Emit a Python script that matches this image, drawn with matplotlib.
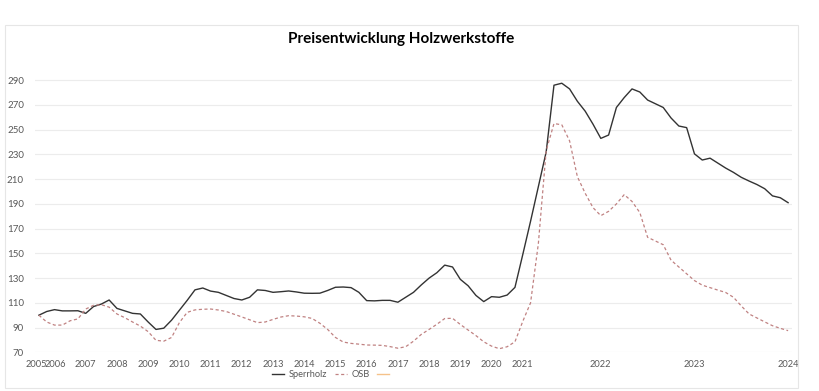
import matplotlib
matplotlib.use("Agg")
import matplotlib.pyplot as plt
import matplotlib.transforms as mtransforms
from matplotlib.lines import Line2D
from matplotlib.patches import Rectangle

plt.rcParams['font.family'] = ['Lato', 'DejaVu Sans']

# Category labels (quarterly until 2020, monthly from 2021); only some categories carry a label
tick_positions = [0, 2, 6, 10, 14, 18, 22, 26, 30, 34, 38, 42, 46, 50, 54, 58, 62, 72, 84, 96]
tick_labels = ["2005", "2006", "2007", "2008", "2009", "2010", "2011", "2012", "2013", "2014",
               "2015", "2016", "2017", "2018", "2019", "2020", "2021", "2022", "2023", "2024"]

sperrholz = [100, 103, 104.5, 103.5, 103.5, 103.6, 101.5, 107, 109, 112.3,
             105.5, 103.5, 101.5, 101, 94.5, 88.5, 89.5, 96, 104, 112,
             120.5, 122, 119.5, 118.5, 116, 113.5, 112.3, 114.5, 120.5, 120,
             118.5, 119, 119.6, 118.8, 117.8, 117.7, 117.8, 120, 122.6, 122.8,
             122.3, 118.5, 111.8, 111.6, 112, 112, 110.5, 114.5, 118.5, 124.5,
             130, 134.4, 140.5, 139, 129, 123.8, 116, 111, 115, 114.5,
             116.3, 122.5, 149, 176, 204, 232, 286, 287.6, 283, 273,
             265, 254.5, 243, 245.7, 268, 276, 283, 280.5, 274, 271,
             268, 259.5, 253, 251.7, 230.5, 225.5, 227, 223, 219, 215.5,
             211.5, 208.5, 205.7, 202.3, 196.5, 195, 191]

osb = [100, 94.5, 92, 92, 95.5, 97, 105, 108, 108.5, 106.5,
       101, 98, 94.5, 91.2, 86.7, 79.7, 79, 82, 94, 102.3,
       104.3, 104.8, 105, 104.2, 103, 100.8, 98.6, 96.3, 94, 94.5,
       96.6, 98.5, 99.6, 99.3, 98.7, 97.4, 93.5, 88.5, 82, 78.3,
       77.2, 76.6, 75.9, 75.8, 75.6, 74.6, 73.3, 74.5, 79, 84.5,
       88.5, 92.7, 97.3, 97.5, 92.5, 88, 83.5, 78.5, 75, 72.9,
       74.5, 78.5, 95, 110, 158, 233, 255, 254, 241, 212,
       198.6, 187, 180.5, 184, 190, 197.5, 192, 183, 163, 160,
       157, 144.5, 139, 133.5, 128, 124.3, 122.3, 120.3, 118.4, 114.5,
       107.5, 101, 97.8, 94.6, 91.5, 89.4, 87.5]

y_ticks = [70, 90, 110, 130, 150, 170, 190, 210, 230, 250, 270, 290]
title = "Preisentwicklung Holzwerkstoffe"
series_names = ["Sperrholz", "OSB", ""]

W, H = 820, 391
fig = plt.figure(figsize=(W / 100, H / 100), dpi=100)
fig.patch.set_facecolor('white')

# chart border
fig.patches.append(Rectangle((5 / W, 1 - 388 / H), 793 / W, 363 / H, transform=fig.transFigure,
                             fill=False, edgecolor='#e6e6e6', linewidth=0.8))

sp_color = '#333333'
osb_color = '#c08282'

ax = fig.add_axes([35 / W, (H - 352.3) / H, (792 - 35) / W, (352.3 - 67.9) / H])
x = list(range(len(sperrholz)))
ax.plot(x, sperrholz, color=sp_color, linewidth=1.0, solid_joinstyle='round')
ax.plot(x, osb, color=osb_color, linewidth=0.9, dashes=(2.5, 2))

ax.set_xlim(-0.5, 96.5)
ax.set_ylim(70, 300)
ax.set_yticks(y_ticks)
ax.set_xticks(tick_positions)
ax.set_xticklabels(tick_labels)
ax.grid(axis='y', color='#ececec', linewidth=0.8)
ax.set_axisbelow(True)
for s in ax.spines.values():
    s.set_visible(False)
ax.tick_params(axis='both', length=0, labelsize=7, labelcolor='#595959')
ax.tick_params(axis='x', labelsize=6.7, pad=5.5)
ax.tick_params(axis='y', pad=8)

# nudge the first two crowded labels apart slightly
first = ax.get_xticklabels()[0]
first.set_transform(first.get_transform() + mtransforms.ScaledTranslation(-2.5 / 100, 0, fig.dpi_scale_trans))
second = ax.get_xticklabels()[1]
second.set_transform(second.get_transform() + mtransforms.ScaledTranslation(0.8 / 100, 0, fig.dpi_scale_trans))

fig.text(401 / W, 1 - 39 / H, title, ha='center', va='center', fontsize=11,
         fontweight='bold', color='#000000')

handles = [Line2D([], [], color=sp_color, linewidth=1.0),
           Line2D([], [], color=osb_color, linewidth=0.9, dashes=(2.5, 2)),
           Line2D([], [], color='#f5c28a', linewidth=1.0)]
leg = fig.legend(handles, series_names, loc='center', bbox_to_anchor=(333 / W, 1 - 374.5 / H),
                 ncol=3, frameon=False, fontsize=6.7, handlelength=1.3, handletextpad=0.5,
                 columnspacing=0.8, labelcolor='#595959', borderpad=0.1)

fig.savefig('out.png', dpi=100, facecolor='white')
